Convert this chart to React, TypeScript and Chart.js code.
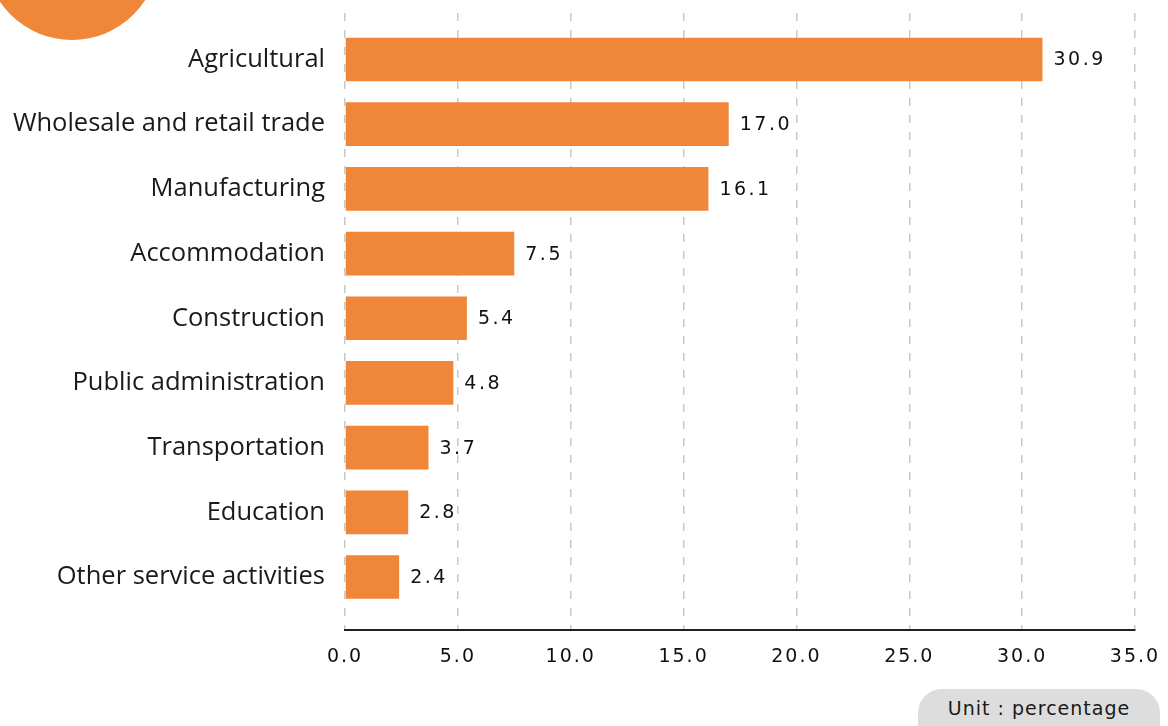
import React, { useEffect, useRef } from "react";
import { Chart, registerables } from "chart.js";

Chart.register(...registerables);

const categories = [
  "Agricultural",
  "Wholesale and retail trade",
  "Manufacturing",
  "Accommodation",
  "Construction",
  "Public administration",
  "Transportation",
  "Education",
  "Other service activities",
];
const values = [30.9, 17.0, 16.1, 7.5, 5.4, 4.8, 3.7, 2.8, 2.4];
const xTickValues = [0, 5, 10, 15, 20, 25, 30, 35];
const unitLabel = "Unit : percentage";

const ORANGE = "#F08638";
const NUM_FONT = "'DejaVu Sans', sans-serif";

export default function App() {
  const ref = useRef<HTMLCanvasElement | null>(null);

  useEffect(() => {
    if (!ref.current) return;

    const spacingPlugin = {
      id: "spacing",
      beforeDraw(chart: any) {
        chart.ctx.letterSpacing = "2px";
      },
      afterDatasetsDraw(chart: any) {
        const ctx = chart.ctx;
        const meta = chart.getDatasetMeta(0);
        ctx.save();
        ctx.letterSpacing = "2.5px";
        ctx.font = `19px ${NUM_FONT}`;
        ctx.fillStyle = "#111";
        ctx.textAlign = "left";
        ctx.textBaseline = "middle";
        meta.data.forEach((el: any, i: number) => {
          ctx.fillText(values[i].toFixed(1), el.x + 11, el.y + 1);
        });
        ctx.restore();
        ctx.letterSpacing = "0px";
      },
      afterDraw(chart: any) {
        chart.ctx.letterSpacing = "0px";
      },
    };

    const chart = new Chart(ref.current, {
      type: "bar",
      data: {
        datasets: [
          {
            data: values.map((v, i) => ({ x: v, y: i })),
            backgroundColor: ORANGE,
            borderWidth: 0,
            categoryPercentage: 1,
            barPercentage: 0.675,
          },
        ],
      },
      options: {
        indexAxis: "y",
        animation: false,
        responsive: false,
        maintainAspectRatio: false,
        layout: { padding: { top: 13, right: 33, left: 0, bottom: 0 } },
        plugins: { legend: { display: false }, tooltip: { enabled: false } },
        scales: {
          x: {
            type: "linear",
            position: "bottom",
            min: 0,
            max: 35,
            afterBuildTicks: (s: any) => {
              s.ticks = xTickValues.map((v) => ({ value: v }));
            },
            afterFit: (s: any) => {
              s.height = 96;
              s.paddingLeft = 0;
              s.paddingRight = 0;
            },
            ticks: {
              callback: (v: any) => Number(v).toFixed(1),
              font: { family: NUM_FONT, size: 19 },
              color: "#111",
              padding: 16,
              maxRotation: 0,
              autoSkip: false,
            },
            grid: {
              color: "#c8c8c8",
              lineWidth: 1.5,
              drawTicks: false,
              borderDash: [8, 9],
              borderDashOffset: 0,
            } as any,
            border: {
              display: true,
              color: "#222",
              width: 2,
              dash: [8, 9],
              dashOffset: 0,
            } as any,
          },
          y: {
            type: "linear",
            position: "left",
            reverse: true,
            offset: false,
            grace: 0,
            min: -0.719,
            max: 8.819,
            afterBuildTicks: (s: any) => {
              s.ticks = categories.map((_, i) => ({ value: i }));
            },
            afterFit: (s: any) => {
              s.width = 345;
              s.paddingTop = 0;
              s.paddingBottom = 0;
            },
            ticks: {
              callback: (v: any) => categories[v] ?? "",
              font: { family: "'Open Sans', sans-serif", size: 25.5 },
              color: "#1a1a1a",
              padding: 20,
              autoSkip: false,
              z: 1,
            },
            grid: { display: false, drawTicks: false, offset: false },
            border: { display: false },
          },
        },
      } as any,
      plugins: [spacingPlugin],
    });

    return () => chart.destroy();
  }, []);

  return (
    <div
      style={{
        position: "absolute",
        left: 0,
        top: 0,
        width: 1168,
        height: 726,
        overflow: "hidden",
        background: "#fff",
      }}
    >
      <div
        style={{
          position: "absolute",
          left: 72 - 87,
          top: -47 - 87,
          width: 174,
          height: 174,
          borderRadius: "50%",
          background: ORANGE,
        }}
      />
      <canvas
        ref={ref}
        width={1168}
        height={726}
        style={{ position: "absolute", left: 0, top: 0, width: 1168, height: 726 }}
      />
      <div
        style={{
          position: "absolute",
          left: 918,
          top: 689,
          width: 242,
          height: 70,
          borderRadius: 24,
          background: "#dddddd",
          boxSizing: "border-box",
          paddingTop: 8,
          textAlign: "center",
          fontFamily: NUM_FONT,
          fontSize: 19,
          letterSpacing: "1px",
          color: "#1a1a1a",
          whiteSpace: "nowrap",
        }}
      >
        {unitLabel}
      </div>
    </div>
  );
}
